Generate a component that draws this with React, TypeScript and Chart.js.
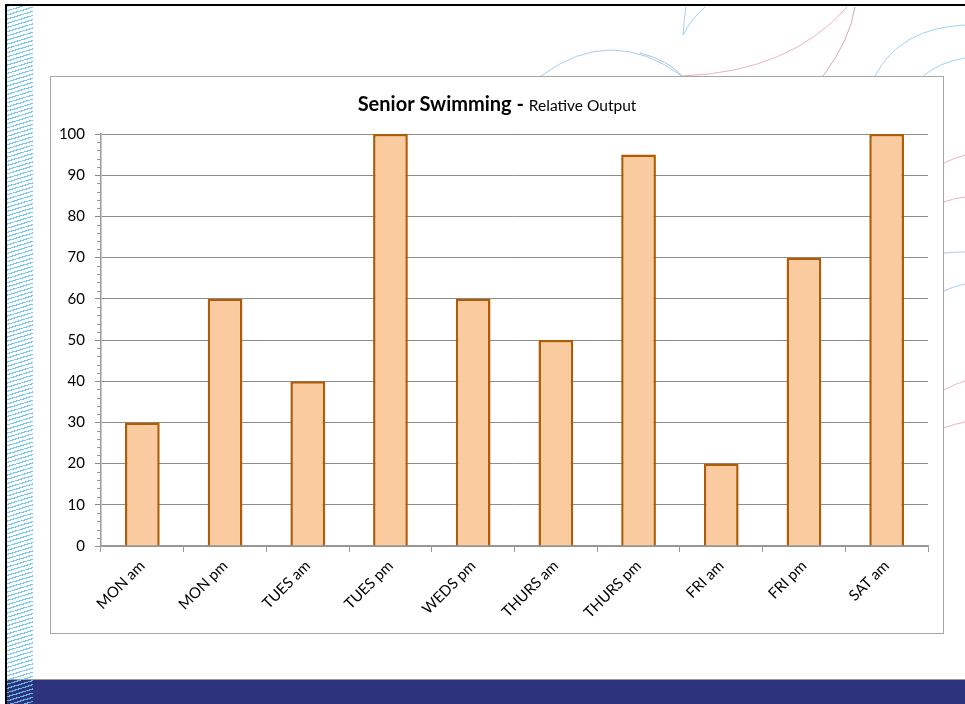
import React, { useEffect, useRef } from "react";
import { Chart, registerables } from "chart.js";

Chart.register(...registerables);

const categories = ["MON am", "MON pm", "TUES am", "TUES pm", "WEDS pm", "THURS am", "THURS pm", "FRI am", "FRI pm", "SAT am"];
const values = [30, 60, 40, 100, 60, 50, 95, 20, 70, 100];
const yMin = 0;
const yMax = 100;
const yStep = 10;
const yMinorStep = 2;
const titleBold = "Senior Swimming - ";
const titleNormal = "Relative Output";

const FONT = "Lato, 'Open Sans', sans-serif";

const titlePlugin = {
  id: "mixedTitle",
  afterDraw(chart: any) {
    const ctx = chart.ctx;
    ctx.save();
    ctx.fillStyle = "#000";
    ctx.textBaseline = "alphabetic";
    ctx.font = `bold 20px ${FONT}`;
    const w1 = ctx.measureText(titleBold).width;
    ctx.font = `15.5px ${FONT}`;
    const w2 = ctx.measureText(titleNormal).width;
    const x0 = chart.width / 2 - (w1 + w2) / 2;
    ctx.font = `bold 20px ${FONT}`;
    ctx.fillText(titleBold, x0, 34);
    ctx.font = `15.5px ${FONT}`;
    ctx.fillText(titleNormal, x0 + w1, 34);
    ctx.restore();
  },
};

const minorTickPlugin = {
  id: "minorTicks",
  afterDraw(chart: any) {
    const y = chart.scales.y;
    const ctx = chart.ctx;
    const left = chart.chartArea.left;
    ctx.save();
    ctx.strokeStyle = "#999";
    ctx.lineWidth = 1;
    for (let v = yMin; v <= yMax; v += yMinorStep) {
      if (v % yStep === 0) continue;
      const py = Math.round(y.getPixelForValue(v)) + 0.5;
      ctx.beginPath();
      ctx.moveTo(left - 4, py);
      ctx.lineTo(left, py);
      ctx.stroke();
    }
    ctx.restore();
  },
};

function BarChart() {
  const ref = useRef<HTMLCanvasElement>(null);
  useEffect(() => {
    if (!ref.current) return;
    const chart = new Chart(ref.current, {
      type: "bar",
      data: {
        labels: categories,
        datasets: [
          {
            data: values,
            backgroundColor: "#FBCBA0",
            borderColor: "#B05C06",
            borderWidth: 2.5,
            categoryPercentage: 1,
            barPercentage: 0.42,
          },
        ],
      },
      options: {
        animation: false,
        responsive: false,
        layout: { padding: { top: 57, right: 15, left: 0, bottom: 0 } },
        plugins: { legend: { display: false }, tooltip: { enabled: false }, title: { display: false } },
        scales: {
          y: {
            min: yMin,
            max: yMax,
            ticks: { stepSize: yStep, color: "#000", font: { family: FONT, size: 15 }, padding: 10 },
            grid: { color: "#8c8c8c", lineWidth: 1, tickLength: 6 },
            border: { color: "#9a9a9a", width: 1.5 },
            afterFit: (s: any) => {
              s.width = 50;
            },
          },
          x: {
            ticks: { color: "#000", font: { family: FONT, size: 15 }, maxRotation: 45, minRotation: 45, padding: 5 },
            grid: { drawOnChartArea: false, color: "#9a9a9a", tickLength: 6, offset: true },
            border: { color: "#9a9a9a", width: 1.5 },
            afterFit: (s: any) => {
              s.height = 87;
            },
          },
        },
      },
      plugins: [titlePlugin, minorTickPlugin],
    });
    return () => chart.destroy();
  }, []);
  return <canvas ref={ref} width={892} height={556} style={{ display: "block", width: 892, height: 556 }} />;
}

export default function App() {
  const blue = "#9fd3ef";
  const pink = "#e8b4bc";
  return (
    <div style={{ position: "absolute", left: 0, top: 0, width: 965, height: 704, overflow: "hidden", background: "#fff", fontFamily: FONT }}>
      <svg width={965} height={704} style={{ position: "absolute", left: 0, top: 0 }}>
        <g fill="none" strokeWidth={1}>
          <path d="M541 76 Q611 24 682 76" stroke="#a9cdea" />
          <path d="M640 53 Q668 60 682 76" stroke="#a9c0e4" />
          <path d="M682 76 Q790 72 847 7" stroke={pink} />
          <path d="M823 76 Q850 40 855 7" stroke="#d4aab4" />
          <path d="M683 35 Q684 18 686 7" stroke={blue} />
          <path d="M683 35 Q692 18 705 7" stroke={blue} />
          <path d="M875 76 Q900 28 965 25" stroke={blue} />
          <path d="M923 76 Q940 62 965 58" stroke={blue} />
          <path d="M944 163 Q954 158 965 155" stroke={pink} />
          <path d="M944 202 Q954 198 965 197" stroke={pink} />
          <path d="M944 253 Q954 252 965 252" stroke="#a9cdea" />
          <path d="M944 291 Q954 286 965 284" stroke="#a9cdea" />
          <path d="M944 390 Q954 384 965 381" stroke={pink} />
          <path d="M944 428 Q954 424 965 422" stroke={pink} />
        </g>
      </svg>
      <div style={{ position: "absolute", left: 5, top: 4, width: 960, height: 2, background: "#000" }} />
      <div style={{ position: "absolute", left: 5, top: 4, width: 2, height: 700, background: "#000" }} />
      <div style={{ position: "absolute", left: 7, top: 679, width: 958, height: 1, background: "#9a9a9a" }} />
      <div style={{ position: "absolute", left: 7, top: 680, width: 958, height: 24, background: "#2D347B" }} />
      <div
        style={{
          position: "absolute",
          left: 7,
          top: 6,
          width: 26,
          height: 698,
          backgroundImage: "repeating-linear-gradient(163deg, rgba(110,195,238,0.9) 0px, rgba(110,195,238,0.9) 1.2px, transparent 1.2px, transparent 4px)",
        }}
      />
      <div style={{ position: "absolute", left: 50, top: 76, width: 892, height: 556, border: "1px solid #a6a6a6", background: "#fff" }}>
        <BarChart />
      </div>
    </div>
  );
}
